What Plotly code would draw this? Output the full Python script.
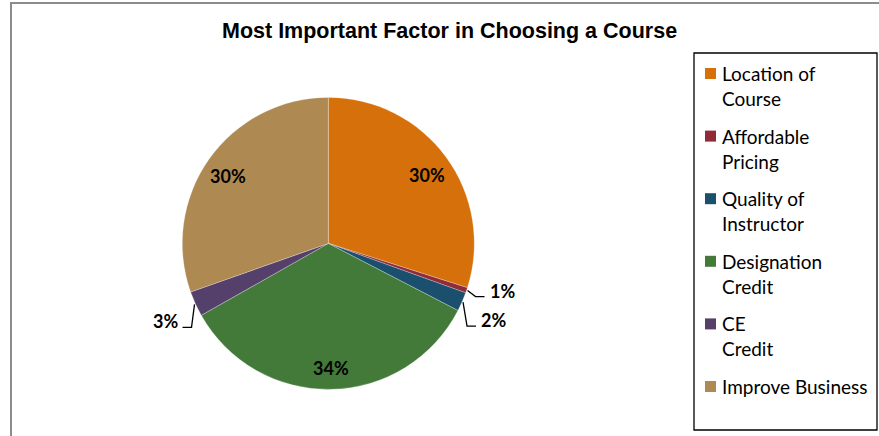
import math
import plotly.graph_objects as go

# ---------------- data ----------------
labels = ["Location of Course", "Affordable Pricing", "Quality of Instructor",
          "Designation Credit", "CE Credit", "Improve Business"]
legend_lines = [["Location of", "Course"], ["Affordable", "Pricing"],
                ["Quality of", "Instructor"], ["Designation", "Credit"],
                ["CE", "Credit"], ["Improve Business"]]
values = [29.9, 0.6, 2.1, 34.2, 2.8, 30.4]
colors = ["#D6700A", "#922B38", "#1B4F6E", "#437A3A", "#553F6B", "#AE8951"]
title_text = "Most Important Factor in Choosing a Course"

# ---------------- layout constants ----------------
W, H = 879, 436
CX, CY, R = 328.3, 243.4, 146.0
# leader elbow offsets (px) for the small, outside labels
leader_offsets = {"Affordable Pricing": (8, 6),
                  "Quality of Instructor": (4, 24),
                  "CE Credit": (-3, 23)}


def px(x):
    return x / W


def py(y):
    return 1 - y / H


fig = go.Figure(go.Pie(
    labels=labels, values=values, sort=False, direction="clockwise", rotation=0,
    marker=dict(colors=colors, line=dict(color="rgba(255,255,255,0.45)", width=0.6)),
    textinfo="none", hoverinfo="label+percent", showlegend=False,
    domain=dict(x=[px(CX - R), px(CX + R)], y=[py(CY + R), py(CY - R)]),
))

annotations = []
shapes = []
LABEL_FONT = dict(family="Lato", size=18, color="black")

# percent labels computed from the data
total = sum(values)
cum = 0.0
for lab, v in zip(labels, values):
    frac = v / total
    mid = (cum + frac / 2) * 2 * math.pi
    cum += frac
    s, c = math.sin(mid), -math.cos(mid)
    pct = f"{round(frac * 100):.0f}%"
    if frac >= 0.10:
        x = CX + 0.84 * R * s
        y = CY + 0.83 * R * c + 3
        annotations.append(dict(x=px(x), y=py(y), xref="paper", yref="paper",
                                text=f"<b>{pct}</b>", showarrow=False, font=LABEL_FONT,
                                xanchor="center", yanchor="middle"))
    else:
        ex, ey = CX + (R + 1) * s, CY + (R + 1) * c
        ox, oy = leader_offsets[lab]
        bx, by = ex + ox, ey + oy
        side = 1 if s >= 0 else -1
        tx = bx + side * 9
        shapes.append(dict(type="path", xref="paper", yref="paper",
                           path=f"M {px(ex)} {py(ey)} L {px(bx)} {py(by)} L {px(tx)} {py(by)}",
                           line=dict(color="black", width=1.3)))
        annotations.append(dict(x=px(tx + side * 3), y=py(by - 6), xref="paper", yref="paper",
                                text=f"<b>{pct}</b>", showarrow=False, font=LABEL_FONT,
                                xanchor="left" if side > 0 else "right", yanchor="middle"))

# title
annotations.append(dict(x=px(450), y=py(31), xref="paper", yref="paper",
                        text=f"<b>{title_text}</b>", showarrow=False,
                        font=dict(family="Liberation Sans, Arial", size=21.5, color="black"),
                        xanchor="center", yanchor="middle"))

# manual legend
LEG_X0, LEG_X1, LEG_Y0, LEG_Y1 = 694, 877, 53, 430
shapes.append(dict(type="rect", xref="paper", yref="paper",
                   x0=px(LEG_X0), x1=px(LEG_X1), y0=py(LEG_Y1), y1=py(LEG_Y0),
                   line=dict(color="black", width=1.3), fillcolor="rgba(0,0,0,0)"))
for i, (lines, col) in enumerate(zip(legend_lines, colors)):
    yc = 73.5 + i * 62.6
    shapes.append(dict(type="rect", xref="paper", yref="paper",
                       x0=px(705), x1=px(716), y0=py(yc + 5.5), y1=py(yc - 5.5),
                       line=dict(width=0), fillcolor=col))
    for j, t in enumerate(lines):
        annotations.append(dict(x=px(720), y=py(yc + j * 25), xref="paper", yref="paper",
                                text=t, showarrow=False,
                                font=dict(family="Lato", size=19, color="black"),
                                xanchor="left", yanchor="middle"))

# outer chart border (partly cropped)
shapes.append(dict(type="rect", xref="paper", yref="paper",
                   x0=px(11), x1=px(W + 10), y0=py(H + 10), y1=py(3),
                   line=dict(color="#8C8C8C", width=2), fillcolor="rgba(0,0,0,0)"))

fig.update_layout(width=W, height=H, margin=dict(l=0, r=0, t=0, b=0),
                  paper_bgcolor="white", plot_bgcolor="white",
                  annotations=annotations, shapes=shapes, showlegend=False)

fig.write_html("out.html", config={"displayModeBar": False},
               post_script="document.body.style.margin='0';document.body.style.overflow='hidden';")
